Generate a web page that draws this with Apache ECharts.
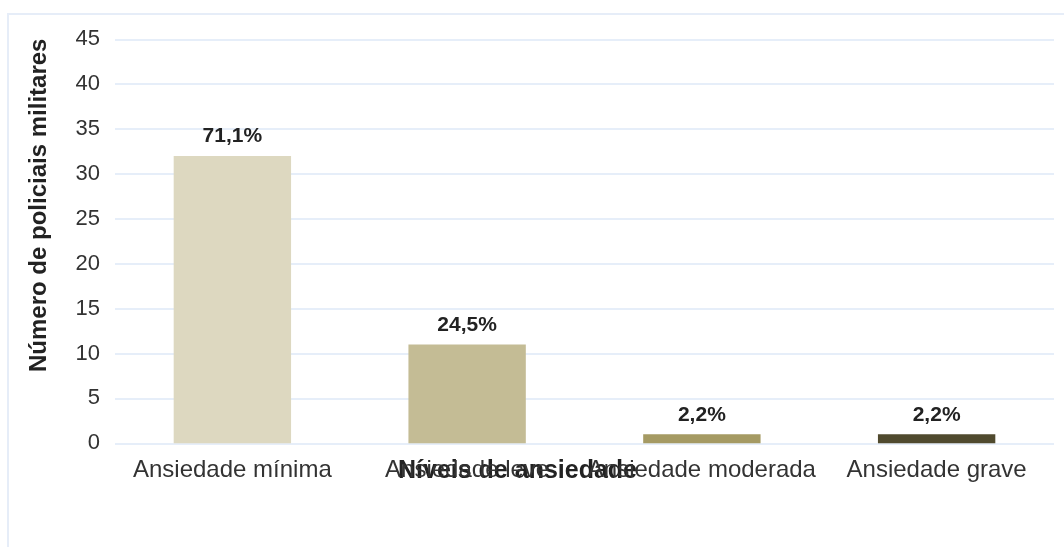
<!DOCTYPE html>
<html>
<head>
<meta charset="utf-8">
<script src="https://cdn.jsdelivr.net/npm/echarts@6/dist/echarts.min.js"></script>
<style>
html,body{margin:0;padding:0;background:#fff;}
#chart{width:1064px;height:547px;}
</style>
</head>
<body>
<div id="chart"></div>
<script>
const categories = ['Ansiedade mínima', 'Ansiedade leve', 'Ansiedade moderada', 'Ansiedade grave'];
const counts = [32, 11, 1, 1];
const pctLabels = ['71,1%', '24,5%', '2,2%', '2,2%'];
const barColors = ['#ddd8c0', '#c4bc95', '#a59a63', '#504a2e'];
const yTitle = 'Número de policiais militares';
const xTitle = 'Níveis de ansiedade';

const chart = echarts.init(document.getElementById('chart'), null, {renderer: 'canvas'});
chart.setOption({
  backgroundColor: '#fff',
  animation: false,
  graphic: [{
    type: 'rect',
    shape: {x: 8, y: 14, width: 1070, height: 560},
    style: {fill: 'none', stroke: '#e6edf8', lineWidth: 2},
    silent: true, z: -1
  }],
  grid: {left: 115, right: 10, top: 39.3, bottom: 103.7, containLabel: false},
  xAxis: {
    type: 'category',
    data: categories,
    name: xTitle,
    nameLocation: 'middle',
    nameGap: 15,
    nameMoveOverlap: false,
    nameTextStyle: {
      fontFamily: 'Liberation Sans', fontWeight: 'bold', fontSize: 25, color: '#222',
      verticalAlign: 'top', padding: [0, 134, 0, 0]
    },
    axisLine: {show: false},
    axisTick: {show: false},
    axisLabel: {fontFamily: 'Liberation Sans', fontSize: 24, color: '#333', margin: 15, interval: 0}
  },
  yAxis: {
    type: 'value',
    min: 0, max: 45, interval: 5,
    name: yTitle,
    nameLocation: 'middle',
    nameGap: 64,
    nameMoveOverlap: false,
    nameRotate: 90,
    nameTextStyle: {
      fontFamily: 'Liberation Sans', fontWeight: 'bold', fontSize: 24, color: '#222',
      padding: [0, 0, 0, 72]
    },
    axisLine: {show: false},
    axisTick: {show: false},
    axisLabel: {fontFamily: 'Liberation Sans', fontSize: 22, color: '#333', margin: 15},
    splitLine: {lineStyle: {color: '#e6eef9', width: 2}}
  },
  series: [{
    type: 'bar',
    barWidth: '50%',
    data: counts.map((v, i) => ({value: v, itemStyle: {color: barColors[i]}})),
    label: {
      show: true,
      position: 'top',
      distance: 9,
      fontFamily: 'Liberation Sans',
      fontWeight: 'bold',
      fontSize: 21,
      color: '#222',
      formatter: p => pctLabels[p.dataIndex]
    }
  }]
});
</script>
</body>
</html>
